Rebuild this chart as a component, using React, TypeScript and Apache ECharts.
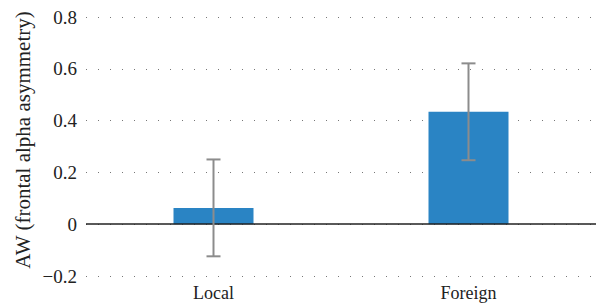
import React, { useEffect, useRef } from "react";
import * as echarts from "echarts";

const categories = ["Local", "Foreign"];
const means = [0.063, 0.434];
const errors = [0.187, 0.187];
const yTicks = { min: -0.2, max: 0.8, interval: 0.2 };
const yName = "AW (frontal alpha asymmetry)";

const FONT = "Liberation Serif, Times New Roman, serif";

export default function App() {
  const ref = useRef<HTMLDivElement>(null);
  useEffect(() => {
    if (!ref.current) return;
    const chart = echarts.init(ref.current, undefined, { renderer: "svg" });
    const errData = categories.map((c, i) => [i, means[i] - errors[i], means[i] + errors[i]]);
    chart.setOption({
      animation: false,
      textStyle: { fontFamily: FONT },
      grid: { left: 86, right: 0, top: 17, bottom: 28, containLabel: false },
      graphic: [
        {
          type: "text",
          x: 23,
          y: 140,
          rotation: Math.PI / 2,
          style: {
            text: yName,
            fontFamily: FONT,
            fontSize: 21,
            fill: "#222",
            align: "center",
            verticalAlign: "middle",
          },
        },
      ],
      xAxis: {
        type: "category",
        data: categories,
        axisLine: { show: false },
        axisTick: { show: false },
        axisLabel: { color: "#222", fontFamily: FONT, fontSize: 18, margin: 8 },
        splitLine: { show: false },
      },
      yAxis: {
        type: "value",
        min: yTicks.min,
        max: yTicks.max,
        interval: yTicks.interval,
        axisLine: { show: false },
        axisTick: { show: false },
        axisLabel: {
          color: "#222",
          fontFamily: FONT,
          fontSize: 19,
          margin: 9,
          formatter: (v: number) => {
            const r = Math.round(v * 10) / 10;
            if (r === 0) return "0";
            if (r < 0) return "\u2212" + Math.abs(r).toFixed(1);
            return r.toFixed(1);
          },
        },
        splitLine: { show: true, lineStyle: { color: "#777", width: 1, type: [1, 11] } },
      },
      series: [
        {
          type: "bar",
          data: means,
          barWidth: 80,
          itemStyle: { color: "#2a84c4" },
          markLine: {
            silent: true,
            symbol: "none",
            label: { show: false },
            lineStyle: { color: "#222", width: 1.5, type: "solid" },
            data: [{ yAxis: 0 }],
          },
          z: 2,
        },
        {
          type: "custom",
          data: errData,
          z: 5,
          renderItem: (params: any, api: any) => {
            const x = api.value(0);
            const lo = api.coord([x, api.value(1)]);
            const hi = api.coord([x, api.value(2)]);
            const cap = 7;
            const style = { stroke: "#8c8c8c", lineWidth: 2 };
            return {
              type: "group",
              children: [
                { type: "line", shape: { x1: lo[0], y1: lo[1], x2: hi[0], y2: hi[1] }, style },
                { type: "line", shape: { x1: hi[0] - cap, y1: hi[1], x2: hi[0] + cap, y2: hi[1] }, style },
                { type: "line", shape: { x1: lo[0] - cap, y1: lo[1], x2: lo[0] + cap, y2: lo[1] }, style },
              ],
            };
          },
        },
      ],
    });
    return () => chart.dispose();
  }, []);
  return (
    <div
      ref={ref}
      style={{ position: "absolute", left: 0, top: 0, width: 596, height: 304, background: "#fff" }}
    />
  );
}
